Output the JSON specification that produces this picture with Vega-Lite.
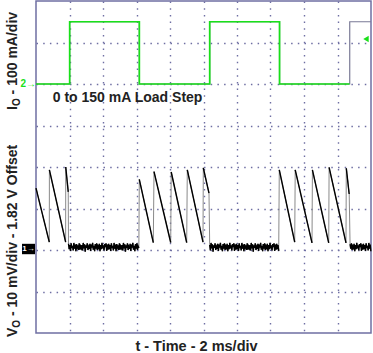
{
"$schema": "https://vega.github.io/schema/vega-lite/v6.json",
"width": 335, "height": 332,
"autosize": {"type": "none"},
"padding": {"left": 36, "top": 1, "right": 2, "bottom": 20},
"background": "white",
"config": {
  "font": "Liberation Sans",
  "view": {"stroke": "#6f6fa3", "strokeWidth": 1.5},
  "axis": {"grid": true, "gridColor": "#6f6fa3", "gridDash": [1.5, 5.2], "gridWidth": 1.4, "gridOpacity": 1, "labels": false, "ticks": false, "domain": false}
},
"datasets": {
"io": [{"t":0,"v":2},{"t":2.01,"v":3.5},{"t":6.17,"v":2},{"t":10.37,"v":3.5},{"t":14.54,"v":2},{"t":18.72,"v":2},{"t":18.73,"v":3.5},{"t":20,"v":3.5}],
"xt": [{"t":0},{"t":0.4},{"t":0.8},{"t":1.2},{"t":1.6},{"t":2},{"t":2.4},{"t":2.8},{"t":3.2},{"t":3.6},{"t":4},{"t":4.4},{"t":4.8},{"t":5.2},{"t":5.6},{"t":6},{"t":6.4},{"t":6.8},{"t":7.2},{"t":7.6},{"t":8},{"t":8.4},{"t":8.8},{"t":9.2},{"t":9.6},{"t":10},{"t":10.4},{"t":10.8},{"t":11.2},{"t":11.6},{"t":12},{"t":12.4},{"t":12.8},{"t":13.2},{"t":13.6},{"t":14},{"t":14.4},{"t":14.8},{"t":15.2},{"t":15.6},{"t":16},{"t":16.4},{"t":16.8},{"t":17.2},{"t":17.6},{"t":18},{"t":18.4},{"t":18.8},{"t":19.2},{"t":19.6},{"t":20}],
"yt": [{"v":-4},{"v":-3.8},{"v":-3.6},{"v":-3.4},{"v":-3.2},{"v":-3},{"v":-2.8},{"v":-2.6},{"v":-2.4},{"v":-2.2},{"v":-2},{"v":-1.8},{"v":-1.6},{"v":-1.4},{"v":-1.2},{"v":-1},{"v":-0.8},{"v":-0.6},{"v":-0.4},{"v":-0.2},{"v":0},{"v":0.2},{"v":0.4},{"v":0.6},{"v":0.8},{"v":1},{"v":1.2},{"v":1.4},{"v":1.6},{"v":1.8},{"v":2},{"v":2.2},{"v":2.4},{"v":2.6},{"v":2.8},{"v":3},{"v":3.2},{"v":3.4},{"v":3.6},{"v":3.8},{"v":4}],
"lab": [
 {"k":"big","t":-1.164,"v":1.373,"text":"I"},
 {"k":"sub","t":-0.985,"v":1.467,"text":"O"},
 {"k":"big","t":-1.164,"v":1.749,"text":"- 100 mA/div"},
 {"k":"big","t":-1.164,"v":-4.096,"text":"V"},
 {"k":"sub","t":-0.985,"v":-3.872,"text":"O"},
 {"k":"big","t":-1.164,"v":-3.590,"text":"- 10 mV/div - 1.82 V Offset"},
 {"k":"ann","t":1.0,"v":1.578,"text":"0 to 150 mA Load Step"}
],
"mk": [
 {"k":"ch2","t":0,"v":2,"text":"2→"},
 {"k":"ch1","t":-0.448,"v":-1.976,"text":"1→"},
 {"k":"trig","t":19.70,"v":3.084,"text":""}
],
"vo": [
{"t":0,"v":-0.51,"s":"a"},{"t":0.794,"v":-1.81,"s":"a"},
{"t":0.80,"v":-0.07,"s":"b"},{"t":1.77,"v":-1.81,"s":"b"},
{"t":1.775,"v":0.0,"s":"c"},{"t":1.925,"v":-0.6,"s":"c"},
{"t":1.94,"v":-1.85,"s":"d"},{"t":1.98,"v":-1.98,"s":"d"},{"t":2.02,"v":-1.88,"s":"d"},{"t":2.06,"v":-2.02,"s":"d"},{"t":2.10,"v":-1.84,"s":"d"},{"t":2.14,"v":-1.95,"s":"d"},{"t":2.18,"v":-1.90,"s":"d"},{"t":2.22,"v":-2.01,"s":"d"},{"t":2.26,"v":-1.83,"s":"d"},{"t":2.30,"v":-1.97,"s":"d"},{"t":2.34,"v":-1.87,"s":"d"},{"t":2.38,"v":-2.03,"s":"d"},{"t":2.42,"v":-1.86,"s":"d"},{"t":2.46,"v":-1.94,"s":"d"},{"t":2.50,"v":-1.89,"s":"d"},{"t":2.54,"v":-2.00,"s":"d"},{"t":2.58,"v":-1.84,"s":"d"},{"t":2.62,"v":-1.99,"s":"d"},{"t":2.66,"v":-1.91,"s":"d"},{"t":2.70,"v":-1.96,"s":"d"},
{"t":2.74,"v":-1.88,"s":"d"},{"t":2.78,"v":-2.01,"s":"d"},{"t":2.82,"v":-1.83,"s":"d"},{"t":2.86,"v":-1.96,"s":"d"},{"t":2.90,"v":-1.86,"s":"d"},{"t":2.94,"v":-2.04,"s":"d"},{"t":2.98,"v":-1.89,"s":"d"},{"t":3.02,"v":-1.95,"s":"d"},{"t":3.06,"v":-1.84,"s":"d"},{"t":3.10,"v":-2.00,"s":"d"},{"t":3.14,"v":-1.92,"s":"d"},{"t":3.18,"v":-1.97,"s":"d"},{"t":3.22,"v":-1.85,"s":"d"},{"t":3.26,"v":-2.02,"s":"d"},{"t":3.30,"v":-1.87,"s":"d"},{"t":3.34,"v":-1.94,"s":"d"},{"t":3.38,"v":-1.83,"s":"d"},{"t":3.42,"v":-1.99,"s":"d"},{"t":3.46,"v":-1.90,"s":"d"},{"t":3.50,"v":-2.03,"s":"d"},
{"t":3.54,"v":-1.86,"s":"d"},{"t":3.58,"v":-1.97,"s":"d"},{"t":3.62,"v":-1.84,"s":"d"},{"t":3.66,"v":-2.00,"s":"d"},{"t":3.70,"v":-1.91,"s":"d"},{"t":3.74,"v":-1.95,"s":"d"},{"t":3.78,"v":-1.85,"s":"d"},{"t":3.82,"v":-2.03,"s":"d"},{"t":3.86,"v":-1.88,"s":"d"},{"t":3.90,"v":-1.98,"s":"d"},{"t":3.94,"v":-1.83,"s":"d"},{"t":3.98,"v":-1.96,"s":"d"},{"t":4.02,"v":-1.89,"s":"d"},{"t":4.06,"v":-2.01,"s":"d"},{"t":4.10,"v":-1.86,"s":"d"},{"t":4.14,"v":-1.93,"s":"d"},{"t":4.18,"v":-1.84,"s":"d"},{"t":4.22,"v":-2.02,"s":"d"},{"t":4.26,"v":-1.87,"s":"d"},{"t":4.30,"v":-1.99,"s":"d"},
{"t":4.34,"v":-1.85,"s":"d"},{"t":4.38,"v":-1.98,"s":"d"},{"t":4.42,"v":-1.88,"s":"d"},{"t":4.46,"v":-2.02,"s":"d"},{"t":4.50,"v":-1.84,"s":"d"},{"t":4.54,"v":-1.95,"s":"d"},{"t":4.58,"v":-1.90,"s":"d"},{"t":4.62,"v":-2.01,"s":"d"},{"t":4.66,"v":-1.83,"s":"d"},{"t":4.70,"v":-1.97,"s":"d"},{"t":4.74,"v":-1.87,"s":"d"},{"t":4.78,"v":-2.03,"s":"d"},{"t":4.82,"v":-1.86,"s":"d"},{"t":4.86,"v":-1.94,"s":"d"},{"t":4.90,"v":-1.89,"s":"d"},{"t":4.94,"v":-2.00,"s":"d"},{"t":4.98,"v":-1.84,"s":"d"},{"t":5.02,"v":-1.99,"s":"d"},{"t":5.06,"v":-1.91,"s":"d"},{"t":5.10,"v":-1.96,"s":"d"},
{"t":5.14,"v":-1.88,"s":"d"},{"t":5.18,"v":-2.01,"s":"d"},{"t":5.22,"v":-1.83,"s":"d"},{"t":5.26,"v":-1.96,"s":"d"},{"t":5.30,"v":-1.86,"s":"d"},{"t":5.34,"v":-2.04,"s":"d"},{"t":5.38,"v":-1.89,"s":"d"},{"t":5.42,"v":-1.95,"s":"d"},{"t":5.46,"v":-1.84,"s":"d"},{"t":5.50,"v":-2.00,"s":"d"},{"t":5.54,"v":-1.92,"s":"d"},{"t":5.58,"v":-1.97,"s":"d"},{"t":5.62,"v":-1.85,"s":"d"},{"t":5.66,"v":-2.02,"s":"d"},{"t":5.70,"v":-1.87,"s":"d"},{"t":5.74,"v":-1.94,"s":"d"},{"t":5.78,"v":-1.83,"s":"d"},{"t":5.82,"v":-1.99,"s":"d"},{"t":5.86,"v":-1.90,"s":"d"},{"t":5.90,"v":-2.03,"s":"d"},
{"t":5.94,"v":-1.86,"s":"d"},{"t":5.98,"v":-1.97,"s":"d"},{"t":6.02,"v":-1.84,"s":"d"},{"t":6.06,"v":-2.00,"s":"d"},{"t":6.10,"v":-1.91,"s":"d"},{"t":6.14,"v":-1.95,"s":"d"},
{"t":6.167,"v":-0.30,"s":"e"},{"t":7.003,"v":-1.82,"s":"e"},
{"t":7.045,"v":-0.11,"s":"f"},{"t":8.042,"v":-1.82,"s":"f"},
{"t":8.072,"v":-0.12,"s":"g"},{"t":8.997,"v":-1.82,"s":"g"},
{"t":9.033,"v":-0.07,"s":"h"},{"t":9.970,"v":-1.81,"s":"h"},
{"t":9.988,"v":-0.02,"s":"i"},{"t":10.328,"v":-0.63,"s":"i"},
{"t":10.37,"v":-1.88,"s":"j"},{"t":10.41,"v":-2.01,"s":"j"},{"t":10.45,"v":-1.83,"s":"j"},{"t":10.49,"v":-1.96,"s":"j"},{"t":10.53,"v":-1.86,"s":"j"},{"t":10.57,"v":-2.04,"s":"j"},{"t":10.61,"v":-1.89,"s":"j"},{"t":10.65,"v":-1.95,"s":"j"},{"t":10.69,"v":-1.84,"s":"j"},{"t":10.73,"v":-2.00,"s":"j"},{"t":10.77,"v":-1.92,"s":"j"},{"t":10.81,"v":-1.97,"s":"j"},{"t":10.85,"v":-1.85,"s":"j"},{"t":10.89,"v":-2.02,"s":"j"},{"t":10.93,"v":-1.87,"s":"j"},{"t":10.97,"v":-1.94,"s":"j"},{"t":11.01,"v":-1.83,"s":"j"},{"t":11.05,"v":-1.99,"s":"j"},{"t":11.09,"v":-1.90,"s":"j"},{"t":11.13,"v":-2.03,"s":"j"},
{"t":11.17,"v":-1.86,"s":"j"},{"t":11.21,"v":-1.97,"s":"j"},{"t":11.25,"v":-1.84,"s":"j"},{"t":11.29,"v":-2.00,"s":"j"},{"t":11.33,"v":-1.91,"s":"j"},{"t":11.37,"v":-1.95,"s":"j"},{"t":11.41,"v":-1.85,"s":"j"},{"t":11.45,"v":-2.03,"s":"j"},{"t":11.49,"v":-1.88,"s":"j"},{"t":11.53,"v":-1.98,"s":"j"},{"t":11.57,"v":-1.83,"s":"j"},{"t":11.61,"v":-1.96,"s":"j"},{"t":11.65,"v":-1.89,"s":"j"},{"t":11.69,"v":-2.01,"s":"j"},{"t":11.73,"v":-1.86,"s":"j"},{"t":11.77,"v":-1.93,"s":"j"},{"t":11.81,"v":-1.84,"s":"j"},{"t":11.85,"v":-2.02,"s":"j"},{"t":11.89,"v":-1.87,"s":"j"},{"t":11.93,"v":-1.99,"s":"j"},
{"t":11.97,"v":-1.85,"s":"j"},{"t":12.01,"v":-1.98,"s":"j"},{"t":12.05,"v":-1.88,"s":"j"},{"t":12.09,"v":-2.02,"s":"j"},{"t":12.13,"v":-1.84,"s":"j"},{"t":12.17,"v":-1.95,"s":"j"},{"t":12.21,"v":-1.90,"s":"j"},{"t":12.25,"v":-2.01,"s":"j"},{"t":12.29,"v":-1.83,"s":"j"},{"t":12.33,"v":-1.97,"s":"j"},{"t":12.37,"v":-1.87,"s":"j"},{"t":12.41,"v":-2.03,"s":"j"},{"t":12.45,"v":-1.86,"s":"j"},{"t":12.49,"v":-1.94,"s":"j"},{"t":12.53,"v":-1.89,"s":"j"},{"t":12.57,"v":-2.00,"s":"j"},{"t":12.61,"v":-1.84,"s":"j"},{"t":12.65,"v":-1.99,"s":"j"},{"t":12.69,"v":-1.91,"s":"j"},{"t":12.73,"v":-1.96,"s":"j"},
{"t":12.77,"v":-1.88,"s":"j"},{"t":12.81,"v":-2.01,"s":"j"},{"t":12.85,"v":-1.83,"s":"j"},{"t":12.89,"v":-1.96,"s":"j"},{"t":12.93,"v":-1.86,"s":"j"},{"t":12.97,"v":-2.04,"s":"j"},{"t":13.01,"v":-1.89,"s":"j"},{"t":13.05,"v":-1.95,"s":"j"},{"t":13.09,"v":-1.84,"s":"j"},{"t":13.13,"v":-2.00,"s":"j"},{"t":13.17,"v":-1.92,"s":"j"},{"t":13.21,"v":-1.97,"s":"j"},{"t":13.25,"v":-1.85,"s":"j"},{"t":13.29,"v":-2.02,"s":"j"},{"t":13.33,"v":-1.87,"s":"j"},{"t":13.37,"v":-1.94,"s":"j"},{"t":13.41,"v":-1.83,"s":"j"},{"t":13.45,"v":-1.99,"s":"j"},{"t":13.49,"v":-1.90,"s":"j"},{"t":13.53,"v":-2.03,"s":"j"},
{"t":13.57,"v":-1.86,"s":"j"},{"t":13.61,"v":-1.97,"s":"j"},{"t":13.65,"v":-1.84,"s":"j"},{"t":13.69,"v":-2.00,"s":"j"},{"t":13.73,"v":-1.91,"s":"j"},{"t":13.77,"v":-1.95,"s":"j"},{"t":13.81,"v":-1.85,"s":"j"},{"t":13.85,"v":-2.03,"s":"j"},{"t":13.89,"v":-1.88,"s":"j"},{"t":13.93,"v":-1.98,"s":"j"},{"t":13.97,"v":-1.83,"s":"j"},{"t":14.01,"v":-1.96,"s":"j"},{"t":14.05,"v":-1.89,"s":"j"},{"t":14.09,"v":-2.01,"s":"j"},{"t":14.13,"v":-1.86,"s":"j"},{"t":14.17,"v":-1.93,"s":"j"},{"t":14.21,"v":-1.84,"s":"j"},{"t":14.25,"v":-2.02,"s":"j"},{"t":14.29,"v":-1.87,"s":"j"},{"t":14.33,"v":-1.99,"s":"j"},
{"t":14.37,"v":-1.85,"s":"j"},{"t":14.41,"v":-1.98,"s":"j"},{"t":14.45,"v":-1.88,"s":"j"},{"t":14.49,"v":-2.02,"s":"j"},
{"t":14.525,"v":-0.07,"s":"k"},{"t":15.445,"v":-1.81,"s":"k"},
{"t":15.475,"v":-0.07,"s":"l"},{"t":16.478,"v":-1.83,"s":"l"},
{"t":16.502,"v":-0.07,"s":"m"},{"t":17.475,"v":-1.83,"s":"m"},
{"t":17.499,"v":-0.01,"s":"n"},{"t":18.507,"v":-1.83,"s":"n"},
{"t":18.525,"v":-0.03,"s":"o"},{"t":18.698,"v":-0.65,"s":"o"},
{"t":18.75,"v":-1.86,"s":"p"},{"t":18.79,"v":-1.97,"s":"p"},{"t":18.83,"v":-1.84,"s":"p"},{"t":18.87,"v":-2.00,"s":"p"},{"t":18.91,"v":-1.91,"s":"p"},{"t":18.95,"v":-1.95,"s":"p"},{"t":18.99,"v":-1.85,"s":"p"},{"t":19.03,"v":-2.03,"s":"p"},{"t":19.07,"v":-1.88,"s":"p"},{"t":19.11,"v":-1.98,"s":"p"},{"t":19.15,"v":-1.83,"s":"p"},{"t":19.19,"v":-1.96,"s":"p"},{"t":19.23,"v":-1.89,"s":"p"},{"t":19.27,"v":-2.01,"s":"p"},{"t":19.31,"v":-1.86,"s":"p"},{"t":19.35,"v":-1.93,"s":"p"},{"t":19.39,"v":-1.84,"s":"p"},{"t":19.43,"v":-2.02,"s":"p"},{"t":19.47,"v":-1.87,"s":"p"},{"t":19.51,"v":-1.99,"s":"p"},
{"t":19.55,"v":-1.85,"s":"p"},{"t":19.59,"v":-1.98,"s":"p"},{"t":19.63,"v":-1.88,"s":"p"},{"t":19.67,"v":-2.02,"s":"p"},{"t":19.71,"v":-1.84,"s":"p"},{"t":19.75,"v":-1.95,"s":"p"},{"t":19.79,"v":-1.90,"s":"p"},{"t":19.83,"v":-2.01,"s":"p"},{"t":19.87,"v":-1.83,"s":"p"},{"t":19.91,"v":-1.97,"s":"p"},{"t":19.95,"v":-1.87,"s":"p"},{"t":19.99,"v":-2.03,"s":"p"}
]
},
"encoding": {
  "x": {"field": "t", "type": "quantitative", "scale": {"domain": [0, 20], "nice": false, "zero": false},
        "axis": {"values": [2,4,6,8,10,12,14,16,18], "title": "t - Time - 2 ms/div", "titleFont": "Liberation Sans", "titleFontSize": 14.5, "titleFontWeight": "bold", "titleColor": "#222222", "titleX": 160, "titleY": 17, "titleBaseline": "alphabetic"}},
  "y": {"field": "v", "type": "quantitative", "scale": {"domain": [-4, 4], "nice": false, "zero": false},
        "axis": {"values": [-3,-2,-1,0,1,2,3], "title": null}}
},
"layer": [
  {"data": {"name": "xt"}, "mark": {"type": "tick", "orient": "vertical", "size": 6, "thickness": 1, "color": "#5f5f98"}, "encoding": {"y": {"datum": 0}}},
  {"data": {"name": "xt"}, "mark": {"type": "tick", "orient": "vertical", "size": 7, "thickness": 1, "color": "#5f5f98", "clip": true}, "encoding": {"y": {"datum": 4}}},
  {"data": {"name": "xt"}, "mark": {"type": "tick", "orient": "vertical", "size": 8, "thickness": 1, "color": "#3a3a70", "clip": true}, "encoding": {"y": {"datum": -4}}},
  {"data": {"name": "yt"}, "mark": {"type": "tick", "orient": "horizontal", "size": 6, "thickness": 1, "color": "#5f5f98"}, "encoding": {"x": {"datum": 10}}},
  {"data": {"name": "yt"}, "mark": {"type": "tick", "orient": "horizontal", "size": 7, "thickness": 1, "color": "#5f5f98", "clip": true}, "encoding": {"x": {"datum": 0}}},
  {"data": {"name": "yt"}, "mark": {"type": "tick", "orient": "horizontal", "size": 7, "thickness": 1, "color": "#5f5f98", "clip": true}, "encoding": {"x": {"datum": 20}}},
  {"data": {"name": "io"}, "mark": {"type": "line", "interpolate": "step-after", "color": "#7a7a96", "strokeWidth": 1.2}},
  {"data": {"name": "io"}, "transform": [{"filter": "datum.t <= 18.72"}], "mark": {"type": "line", "interpolate": "step-after", "color": "#19e019", "strokeWidth": 1.7}},
  {"data": {"name": "vo"}, "mark": {"type": "line", "color": "#8a8a8a", "strokeWidth": 1}},
  {"data": {"name": "vo"}, "mark": {"type": "line", "color": "#000000", "strokeWidth": 1.4}, "encoding": {"detail": {"field": "s"}}},
  {"data": {"name": "mk"}, "transform": [{"filter": "datum.k == 'ch2'"}], "mark": {"type": "text", "align": "right", "baseline": "middle", "fontSize": 10, "fontWeight": "bold", "color": "#19e019"}, "encoding": {"text": {"field": "text"}}},
  {"data": {"name": "mk"}, "transform": [{"filter": "datum.k == 'ch1'"}], "mark": {"type": "point", "shape": "M-1,-0.8H1V0.8H-1Z", "size": 169, "filled": true, "color": "#000000", "opacity": 1}},
  {"data": {"name": "mk"}, "transform": [{"filter": "datum.k == 'ch1'"}], "mark": {"type": "text", "align": "center", "baseline": "middle", "fontSize": 8, "fontWeight": "bold", "color": "#ffffff"}, "encoding": {"text": {"field": "text"}}},
  {"data": {"name": "mk"}, "transform": [{"filter": "datum.k == 'trig'"}], "mark": {"type": "point", "shape": "triangle-left", "size": 40, "filled": true, "color": "#19e019", "opacity": 1}},
  {"data": {"name": "lab"}, "transform": [{"filter": "datum.k == 'big'"}], "mark": {"type": "text", "angle": 270, "align": "left", "baseline": "alphabetic", "font": "Liberation Sans", "fontSize": 14, "fontWeight": "bold", "color": "#222222"}, "encoding": {"text": {"field": "text"}}},
  {"data": {"name": "lab"}, "transform": [{"filter": "datum.k == 'sub'"}], "mark": {"type": "text", "angle": 270, "align": "left", "baseline": "alphabetic", "font": "Liberation Sans", "fontSize": 10, "fontWeight": "bold", "color": "#222222"}, "encoding": {"text": {"field": "text"}}},
  {"data": {"name": "lab"}, "transform": [{"filter": "datum.k == 'ann'"}], "mark": {"type": "text", "align": "left", "baseline": "alphabetic", "font": "Liberation Sans", "fontSize": 14, "fontWeight": "bold", "color": "#222222"}, "encoding": {"text": {"field": "text"}}}
]
}
